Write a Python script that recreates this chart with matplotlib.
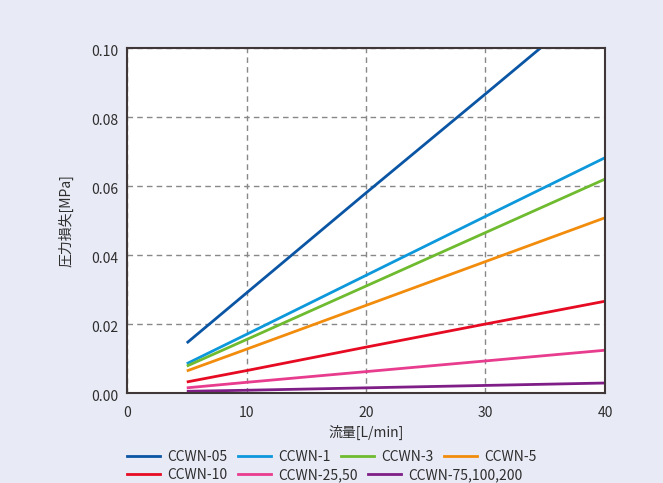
import matplotlib
matplotlib.use("Agg")
import matplotlib.pyplot as plt
from matplotlib.lines import Line2D
from matplotlib.transforms import ScaledTranslation

plt.rcParams['font.family'] = ['Noto Sans CJK JP', 'DejaVu Sans']

flow = [5, 10, 20, 30, 40]
series_names = ["CCWN-05", "CCWN-1", "CCWN-3", "CCWN-5", "CCWN-10", "CCWN-25,50", "CCWN-75,100,200"]
ccwn_05 = [0.0145, 0.0290, 0.0580, 0.0867, 0.1156]
ccwn_1 = [0.0085, 0.0170, 0.0341, 0.0512, 0.0682]
ccwn_3 = [0.0078, 0.0155, 0.0310, 0.0465, 0.0620]
ccwn_5 = [0.0064, 0.0127, 0.0254, 0.0381, 0.0508]
ccwn_10 = [0.0032, 0.0065, 0.0133, 0.0200, 0.0266]
ccwn_25_50 = [0.0015, 0.0031, 0.0062, 0.0093, 0.0124]
ccwn_75_200 = [0.0005, 0.0008, 0.0015, 0.0022, 0.0029]
values = [ccwn_05, ccwn_1, ccwn_3, ccwn_5, ccwn_10, ccwn_25_50, ccwn_75_200]
colors = ["#0A55A4", "#0C98DA", "#6EBB2F", "#F28C0C", "#E60B22", "#E83C8E", "#7E1E86"]

x_ticks = [0, 10, 20, 30, 40]
y_ticks = [0.00, 0.02, 0.04, 0.06, 0.08, 0.10]
x_label = "流量[L/min]"
y_label = "圧力損失[MPa]"

txt = "#2E2E2E"
bg = "#E8EAF6"
fig = plt.figure(figsize=(6.63, 4.83), dpi=100, facecolor=bg)
ax = fig.add_axes([0.1916, 0.1863, 0.9125 - 0.1916, 0.9006 - 0.1863])
ax.set_facecolor("white")

for name, vals, c in zip(series_names, values, colors):
    ax.plot(flow, vals, color=c, lw=2, label=name, solid_capstyle='butt', clip_on=True)

ax.set_xlim(0, 40)
ax.set_ylim(0, 0.10)
ax.set_xticks(x_ticks)
ax.set_yticks(y_ticks)
ax.set_yticklabels([f"{v:.2f}" for v in y_ticks])
ax.tick_params(length=0, labelsize=10, colors=txt)
ax.tick_params(axis='x', pad=9)
ax.tick_params(axis='y', pad=6)
off = ScaledTranslation(0, -2.5 / 100, fig.dpi_scale_trans)
for lab in ax.get_yticklabels():
    lab.set_transform(lab.get_transform() + off)
ax.grid(True, color="#888888", ls=(0, (4, 3)), lw=1)
for s in ax.spines.values():
    s.set_color("#403838")
    s.set_linewidth(1.5)
ax.set_xlabel(x_label, fontsize=10, color=txt, labelpad=4)
ax.set_ylabel(y_label, fontsize=10, color=txt, labelpad=13)

handles = [Line2D([], [], color=c, lw=2) for c in colors]
kw = dict(frameon=False, fontsize=10, handlelength=2.4, handletextpad=0.5,
          columnspacing=0.75, borderpad=0, borderaxespad=0, labelcolor=txt)
leg1 = fig.legend(handles[:4], series_names[:4], ncol=4, loc='center left',
                  bbox_to_anchor=(127 / 663, 1 - 457 / 483), **kw)
leg2 = fig.legend(handles[4:], series_names[4:], ncol=3, loc='center left',
                  bbox_to_anchor=(127 / 663, 1 - 475 / 483), **kw)

fig.savefig("out.png", dpi=100, facecolor=bg)
